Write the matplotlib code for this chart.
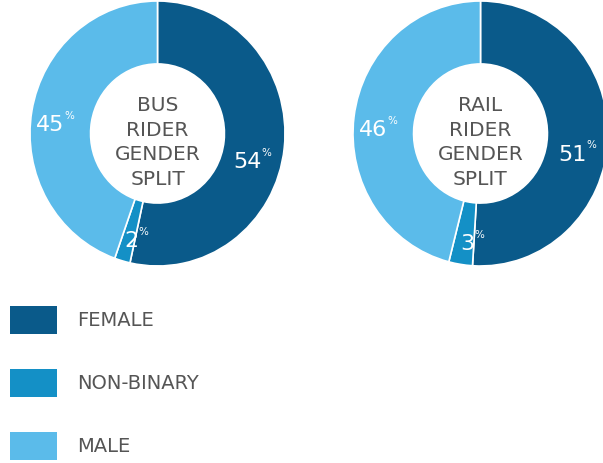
import numpy as np
import matplotlib
matplotlib.use("Agg")
import matplotlib.pyplot as plt
from matplotlib.patches import Rectangle

# Data
categories = ["FEMALE", "NON-BINARY", "MALE"]
colors = ["#0a5a8a", "#1490c6", "#5bbbea"]
bus_values = [54, 2, 45]
rail_values = [51, 3, 46]
titles = ["BUS\nRIDER\nGENDER\nSPLIT", "RAIL\nRIDER\nGENDER\nSPLIT"]

# label placement per category: (angle shift in deg, radius)
label_pos = [(-10, 0.745), (-1, 0.84), (5, 0.83)]

W, H = 603, 464
fig = plt.figure(figsize=(W / 100, H / 100), dpi=100)
fig.patch.set_facecolor("white")

text_grey = "#555555"


def px_axes(x0, y0, x1, y1):
    # pixel box (top-left origin) -> figure axes
    return fig.add_axes([x0 / W, 1 - y1 / H, (x1 - x0) / W, (y1 - y0) / H])


def donut(ax, values, title):
    wedges, _ = ax.pie(values, colors=colors, startangle=90, counterclock=False,
                       radius=1, wedgeprops=dict(width=0.475, edgecolor="white", linewidth=1.2))
    ax.set_aspect("auto")
    ax.set_xlim(-1, 1)
    ax.set_ylim(-1, 1)
    ax.axis("off")
    ax.text(0, -0.06, title, ha="center", va="center", fontsize=14.5,
            color=text_grey, linespacing=1.38, family="DejaVu Sans")
    for w, v, (shift, r) in zip(wedges, values, label_pos):
        mid = np.deg2rad((w.theta1 + w.theta2) / 2 + shift)
        x, y = r * np.cos(mid), r * np.sin(mid)
        ax.text(x + 0.1, y, str(v), ha="right", va="center", fontsize=16,
                color="white", family="DejaVu Sans")
        ax.text(x + 0.1, y + 0.07, "%", ha="left", va="center", fontsize=7.5,
                color="white", family="DejaVu Sans")


ax1 = px_axes(30, 2, 285, 267)
donut(ax1, bus_values, titles[0])

ax2 = px_axes(353, 2, 608, 267)
donut(ax2, rail_values, titles[1])

# Legend
lax = fig.add_axes([0, 0, 1, 1])
lax.set_xlim(0, W)
lax.set_ylim(H, 0)
lax.axis("off")
lax.patch.set_alpha(0)
legend_y = [321, 384, 447]
for cat, col, y in zip(categories, colors, legend_y):
    lax.add_patch(Rectangle((10, y - 14), 47, 28, facecolor=col, edgecolor="none"))
    lax.text(77, y, cat, ha="left", va="center", fontsize=14, color=text_grey,
             family="DejaVu Sans")

fig.savefig("out.png", dpi=100, facecolor="white")
